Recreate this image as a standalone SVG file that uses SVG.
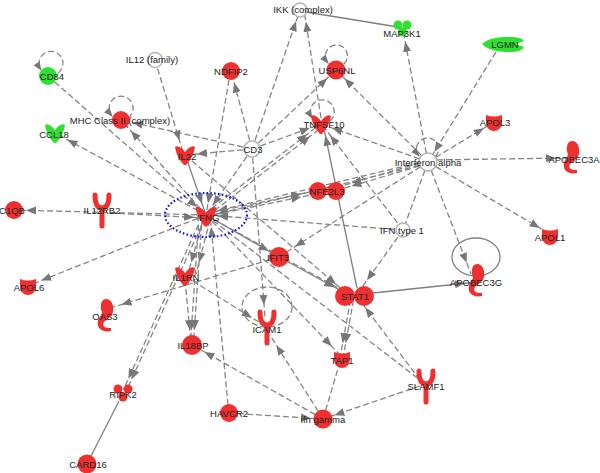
<svg xmlns="http://www.w3.org/2000/svg" width="600" height="473" viewBox="0 0 600 473">
<defs>
<style>
.d{stroke:#858585;stroke-width:1.3;stroke-dasharray:6 3;fill:none}
.s{stroke:#808080;stroke-width:1.3;fill:none}
.r{fill:#ef3030}
.g{fill:#2fe02f}
.w{fill:#fff;stroke:#b5b5b5;stroke-width:1.6}
.y{fill:none;stroke:#ef3030;stroke-width:5;stroke-linecap:round;stroke-linejoin:round}
.t{font-family:"Liberation Sans",Arial,sans-serif;font-size:9.5px;fill:#222;text-anchor:middle}
</style>
<marker id="a" viewBox="0 0 10 10" refX="22" refY="5" markerWidth="10" markerHeight="10" markerUnits="userSpaceOnUse" orient="auto"><path d="M0,1 L10,5 L0,9 Z" fill="#777"/></marker>
<marker id="b" viewBox="0 0 10 10" refX="9" refY="5" markerWidth="9" markerHeight="9" markerUnits="userSpaceOnUse" orient="auto"><path d="M0,1 L10,5 L0,9 Z" fill="#777"/></marker>
<path id="cyt" d="M-10,-8 C-7,-10 -3,-7 0,-3 C3,-7 7,-10 10,-8 C9,-1 5,6 1,10 L-1,10 C-5,6 -9,-1 -10,-8 Z"/>
<path id="cup" d="M-8,-7 Q0,-4 8,-7 L8,0 C8,6 4,9 0,9 C-4,9 -8,6 -8,0 Z"/>
<path id="enz" d="M0,-17 C6,-17 8,-10 7,-4 C6,1 1,3 -2,6 C-4,9 -2,12 3,12 L5,12 L5,15 C-3,17 -10,12 -8,5 C-7,1 -4,-1 -4,-4 C-6,-7 -6,-17 0,-17 Z"/>
<path id="rec" d="M-7,-15 C-7,-4 -3,-2 0,-2 C3,-2 7,-4 7,-15 M0,-2 L0,16"/>
</defs>
<rect width="600" height="473" fill="#fff"/>
<g id="connectors">
<line class="d" x1="252" y1="149" x2="300" y2="10" marker-end="url(#a)"/>
<line class="d" x1="321" y1="118" x2="304" y2="10" marker-end="url(#a)"/>
<line class="s" x1="306" y1="12" x2="398" y2="27"/>
<line class="d" x1="428" y1="162" x2="403" y2="30" marker-end="url(#a)"/>
<line class="d" x1="496" y1="52" x2="428" y2="162" marker-end="url(#a)"/>
<line class="d" x1="428" y1="162" x2="494" y2="122" marker-end="url(#a)"/>
<line class="d" x1="428" y1="160" x2="568" y2="158" marker-end="url(#a)"/>
<line class="d" x1="428" y1="162" x2="550" y2="234" marker-end="url(#a)"/>
<line class="d" x1="428" y1="162" x2="471" y2="274" marker-end="url(#a)"/>
<line class="d" x1="428" y1="162" x2="336" y2="70" marker-end="url(#a)"/>
<line class="d" x1="428" y1="162" x2="321" y2="124" marker-end="url(#a)"/>
<line class="d" x1="428" y1="160.5" x2="340" y2="186.5" marker-end="url(#a)"/>
<line class="d" x1="428" y1="163.5" x2="340" y2="189.5" marker-end="url(#a)"/>
<line class="d" x1="428" y1="162" x2="285" y2="253" marker-end="url(#a)"/>
<line class="d" x1="428" y1="160.5" x2="206" y2="213.5" marker-end="url(#a)"/>
<line class="d" x1="428" y1="163.5" x2="206" y2="216.5" marker-end="url(#a)"/>
<line class="d" x1="428" y1="162" x2="403" y2="230"/>
<line class="d" x1="403" y1="230" x2="360" y2="290" marker-end="url(#a)"/>
<line class="d" x1="403" y1="230" x2="206" y2="215" marker-end="url(#a)"/>
<line class="d" x1="403" y1="230" x2="323" y2="126" marker-end="url(#a)"/>
<line class="d" x1="252" y1="149" x2="231" y2="71" marker-end="url(#a)"/>
<line class="d" x1="229" y1="80" x2="206" y2="215" marker-end="url(#a)"/>
<line class="d" x1="252" y1="149" x2="185" y2="155" marker-end="url(#a)"/>
<line class="d" x1="252" y1="149" x2="321" y2="124" marker-end="url(#a)"/>
<line class="d" x1="252" y1="149" x2="336" y2="70" marker-end="url(#a)"/>
<line class="d" x1="252" y1="149" x2="121" y2="120" marker-end="url(#a)"/>
<line class="d" x1="252" y1="149" x2="206" y2="215" marker-end="url(#a)"/>
<line class="d" x1="252" y1="149" x2="265" y2="317" marker-end="url(#a)"/>
<line class="d" x1="155" y1="60" x2="183" y2="152" marker-end="url(#a)"/>
<line class="d" x1="48" y1="76" x2="206" y2="215" marker-end="url(#a)"/>
<line class="d" x1="206" y1="215" x2="57" y2="134" marker-end="url(#a)"/>
<line class="d" x1="206" y1="215" x2="123" y2="122" marker-end="url(#a)"/>
<line class="d" x1="204.5" y1="214" x2="316.5" y2="127" marker-end="url(#a)"/>
<line class="d" x1="207.5" y1="216" x2="319.5" y2="129" marker-end="url(#a)"/>
<line class="d" x1="206" y1="213.5" x2="313" y2="191.5" marker-end="url(#a)"/>
<line class="d" x1="206" y1="216.5" x2="313" y2="194.5" marker-end="url(#a)"/>
<line class="d" x1="206" y1="215" x2="14" y2="210" marker-end="url(#a)"/>
<line class="d" x1="110" y1="213" x2="206" y2="218" marker-end="url(#a)"/>
<line class="d" x1="206" y1="215" x2="30" y2="285" marker-end="url(#a)"/>
<line class="d" x1="203" y1="220" x2="188" y2="274" marker-end="url(#a)"/>
<line class="d" x1="210" y1="220" x2="196" y2="274" marker-end="url(#a)"/>
<line class="d" x1="198.5" y1="225" x2="190.5" y2="342" marker-end="url(#a)"/>
<line class="d" x1="201.5" y1="225" x2="193.5" y2="342" marker-end="url(#a)"/>
<line class="d" x1="198.5" y1="224.5" x2="123.5" y2="389.5" marker-end="url(#a)"/>
<line class="d" x1="201.5" y1="225.5" x2="126.5" y2="390.5" marker-end="url(#a)"/>
<line class="d" x1="206" y1="215" x2="340" y2="355" marker-end="url(#a)"/>
<line class="d" x1="206" y1="215" x2="345" y2="292" marker-end="url(#a)"/>
<line class="d" x1="185" y1="280" x2="191" y2="342" marker-end="url(#a)"/>
<line class="d" x1="185" y1="276" x2="262" y2="324" marker-end="url(#a)"/>
<line class="d" x1="279" y1="257" x2="110" y2="308" marker-end="url(#a)"/>
<line class="d" x1="350.5" y1="300" x2="340.5" y2="355" marker-end="url(#a)"/>
<line class="d" x1="353.5" y1="300" x2="343.5" y2="355" marker-end="url(#a)"/>
<line class="d" x1="420" y1="380" x2="358" y2="298" marker-end="url(#a)"/>
<line class="d" x1="420" y1="386" x2="323" y2="419" marker-end="url(#a)"/>
<line class="d" x1="323" y1="419" x2="270" y2="335" marker-end="url(#a)"/>
<line class="d" x1="323" y1="419" x2="194" y2="346" marker-end="url(#a)"/>
<line class="d" x1="229" y1="413" x2="323" y2="419" marker-end="url(#a)"/>
<line class="d" x1="228" y1="405" x2="210" y2="215" marker-end="url(#a)"/>
<line class="d" x1="323" y1="419" x2="340" y2="362"/>
<line class="d" x1="206" y1="215" x2="420" y2="380"/>
<line class="d" x1="185" y1="155" x2="345" y2="292" marker-end="url(#a)"/>
<line class="s" x1="187" y1="160" x2="206" y2="215" marker-end="url(#a)"/>
<line class="s" x1="206" y1="215" x2="279" y2="257" marker-end="url(#a)"/>
<line class="s" x1="279" y1="257" x2="345" y2="293" marker-end="url(#a)"/>
<line class="s" x1="357" y1="288" x2="323" y2="124" marker-end="url(#a)"/>
<line class="s" x1="373" y1="293" x2="477" y2="282" marker-end="url(#a)"/>
<line class="s" x1="119" y1="401" x2="91" y2="456"/>
<path class="d" d="M58,73 A12,12 0 1 0 41,70" marker-end="url(#b)"/>
<path class="d" d="M128,118 A12,12 0 1 0 112,116" marker-end="url(#b)"/>
<path class="d" d="M344,64 A11,11 0 1 0 328,63" marker-end="url(#b)"/>
<path class="d" d="M330,121 A12,12 0 1 0 312,118" marker-end="url(#b)"/>
<path class="d" d="M435,157 A11,11 0 1 0 419,156" marker-end="url(#b)"/>
<ellipse class="d" cx="267" cy="307" rx="25" ry="20"/>
<ellipse class="s" cx="476" cy="257" rx="24" ry="19"/>
</g>
<g id="IKK"><circle class="w" cx="300" cy="10" r="7"/><text class="t" x="303" y="12.5">IKK (complex)</text></g>
<g id="MAP3K1"><g class="g"><circle cx="398" cy="25" r="4.5"/><circle cx="407" cy="25" r="4.5"/><circle cx="402.5" cy="32" r="4.5"/></g><text class="t" x="402" y="37">MAP3K1</text></g>
<g id="LGMN"><path class="g" d="M482,44 Q490,36 510,37 Q522,37 524,41 L516,44 L524,47 Q522,52 510,52 Q490,52 482,44 Z"/><text class="t" x="505" y="48">LGMN</text></g>
<g id="CD84"><circle class="g" cx="48" cy="76" r="9"/><text class="t" x="52" y="80">CD84</text></g>
<g id="IL12"><circle class="w" cx="155" cy="60" r="7.5"/><text class="t" x="152" y="63">IL12 (family)</text></g>
<g id="MHC"><circle class="r" cx="121" cy="120" r="9"/><text class="t" x="120" y="123.5">MHC Class II (complex)</text></g>
<g id="CCL18"><use href="#cyt" class="g" transform="translate(55,133)"/><text class="t" x="54" y="138">CCL18</text></g>
<g id="NDFIP2"><circle class="r" cx="231" cy="71" r="9"/><text class="t" x="231" y="75">NDFIP2</text></g>
<g id="USP6NL"><circle class="r" cx="336" cy="70" r="9.5"/><text class="t" x="337" y="73.5">USP6NL</text></g>
<g id="TNFSF10"><use href="#cyt" class="r" transform="translate(321,124)"/><text class="t" x="324" y="128">TNFSF10</text></g>
<g id="CD3"><circle class="w" cx="252" cy="149" r="8"/><text class="t" x="253" y="152.5">CD3</text></g>
<g id="IL22"><use href="#cyt" class="r" transform="translate(185,155)"/><text class="t" x="187" y="160">IL22</text></g>
<g id="IFNG"><use href="#cyt" class="r" transform="translate(206,216) scale(1.05)"/><text class="t" x="208" y="221">IFNG</text><ellipse cx="206" cy="215" rx="41" ry="22" fill="none" stroke="#1a1add" stroke-width="2.2" stroke-dasharray="1.6 2.2"/></g>
<g id="NFE2L3"><circle class="r" cx="318" cy="191" r="9"/><circle class="r" cx="336" cy="191" r="9"/><text class="t" x="327" y="194.5">NFE2L3</text></g>
<g id="IFNa"><circle class="w" cx="428" cy="162" r="9"/><text class="t" x="428" y="166">Interferon alpha</text></g>
<g id="APOL3"><use href="#cup" class="r" transform="translate(494,122)"/><text class="t" x="495" y="126">APOL3</text></g>
<g id="APOBEC3A"><use href="#enz" class="r" transform="translate(572,158)"/><text class="t" x="574" y="163">APOBEC3A</text></g>
<g id="IFN1"><circle class="w" cx="403" cy="230" r="7"/><text class="t" x="402" y="234">IFN type 1</text></g>
<g id="APOL1"><use href="#cup" class="r" transform="translate(550,236)"/><text class="t" x="550" y="241">APOL1</text></g>
<g id="APOBEC3G"><use href="#enz" class="r" transform="translate(477,281)"/><text class="t" x="476" y="286">APOBEC3G</text></g>
<g id="STAT1"><circle class="r" cx="345" cy="296" r="10"/><circle class="r" cx="364" cy="296" r="10"/><text class="t" x="355" y="300">STAT1</text></g>
<g id="IFIT3"><circle class="r" cx="279" cy="257" r="10"/><text class="t" x="278" y="261">IFIT3</text></g>
<g id="IL12RB2"><use href="#rec" class="y" transform="translate(102,210)"/><text class="t" x="102" y="214">IL12RB2</text></g>
<g id="C1QB"><circle class="r" cx="14" cy="210" r="9"/><text class="t" x="12" y="214">C1QB</text></g>
<g id="APOL6"><use href="#cup" class="r" transform="translate(28,286)"/><text class="t" x="29" y="291">APOL6</text></g>
<g id="IL1RN"><use href="#cyt" class="r" transform="translate(185,276)"/><text class="t" x="186" y="281">IL1RN</text></g>
<g id="OAS3"><use href="#enz" class="r" transform="translate(106,316)"/><text class="t" x="105" y="320">OAS3</text></g>
<g id="ICAM1"><use href="#rec" class="y" transform="translate(267,327)"/><text class="t" x="267" y="333">ICAM1</text></g>
<g id="IL18BP"><circle class="r" cx="192" cy="345" r="10"/><text class="t" x="193" y="349">IL18BP</text></g>
<g id="TAP1"><use href="#cup" class="r" transform="translate(342,359)"/><text class="t" x="342" y="364">TAP1</text></g>
<g id="SLAMF1"><use href="#rec" class="y" transform="translate(426,386)"/><text class="t" x="426" y="390">SLAMF1</text></g>
<g id="HAVCR2"><circle class="r" cx="229" cy="413" r="9"/><text class="t" x="229" y="417">HAVCR2</text></g>
<g id="IFNgamma"><circle class="r" cx="323" cy="419" r="9.5"/><text class="t" x="323" y="423">ifn gamma</text></g>
<g id="RIPK2"><g class="r"><circle cx="118" cy="389" r="4.5"/><circle cx="128" cy="389" r="4.5"/><circle cx="123" cy="397" r="4.5"/></g><text class="t" x="123" y="398">RIPK2</text></g>
<g id="CARD16"><circle class="r" cx="87" cy="464" r="9.5"/><text class="t" x="88" y="467.5">CARD16</text></g>
</svg>
